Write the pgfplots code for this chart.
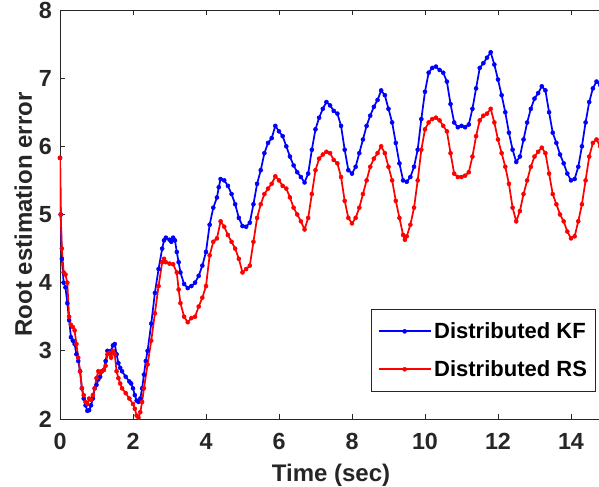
\documentclass[border=0pt]{standalone}
\usepackage{pgfplots}
\pgfplotsset{compat=1.18}
\usepackage{fontspec}
\setmainfont{Liberation Sans}
\pgfplotstableread{
t y
0.00 5.83
0.02 5.00
0.05 4.35
0.10 4.00
0.15 3.93
0.20 3.70
0.25 3.45
0.30 3.20
0.35 3.15
0.40 3.10
0.45 2.95
0.50 2.85
0.55 2.70
0.60 2.45
0.65 2.30
0.70 2.20
0.75 2.12
0.80 2.13
0.85 2.20
0.90 2.30
0.95 2.45
1.00 2.50
1.05 2.58
1.10 2.62
1.15 2.70
1.20 2.72
1.25 2.85
1.30 3.00
1.35 2.97
1.40 3.00
1.45 3.08
1.50 3.10
1.55 2.95
1.60 2.82
1.65 2.75
1.70 2.70
1.80 2.62
1.90 2.55
1.95 2.52
2.00 2.45
2.05 2.35
2.10 2.27
2.15 2.25
2.20 2.30
2.25 2.45
2.30 2.65
2.35 2.85
2.40 3.00
2.50 3.40
2.60 3.85
2.70 4.20
2.80 4.50
2.85 4.62
2.90 4.66
3.00 4.63
3.05 4.60
3.10 4.66
3.15 4.62
3.20 4.45
3.25 4.30
3.30 4.15
3.40 3.98
3.50 3.92
3.60 3.95
3.70 4.00
3.80 4.10
3.90 4.25
4.00 4.45
4.10 4.85
4.20 5.10
4.30 5.25
4.35 5.40
4.40 5.52
4.50 5.50
4.60 5.42
4.70 5.30
4.80 5.15
4.90 4.95
5.00 4.83
5.10 4.82
5.20 4.88
5.30 5.15
5.40 5.45
5.50 5.65
5.60 5.90
5.70 6.05
5.80 6.12
5.90 6.30
6.00 6.22
6.10 6.15
6.20 6.00
6.30 5.85
6.40 5.72
6.50 5.62
6.60 5.55
6.70 5.47
6.80 5.60
6.90 5.95
7.00 6.25
7.10 6.42
7.20 6.55
7.30 6.65
7.40 6.60
7.50 6.52
7.60 6.48
7.70 6.30
7.80 5.95
7.90 5.65
8.00 5.60
8.10 5.70
8.20 5.90
8.30 6.10
8.40 6.30
8.50 6.45
8.60 6.58
8.70 6.68
8.80 6.82
8.90 6.75
9.00 6.55
9.10 6.35
9.20 6.05
9.30 5.75
9.40 5.50
9.50 5.48
9.60 5.55
9.70 5.70
9.80 5.95
9.90 6.40
10.00 6.80
10.10 7.08
10.20 7.15
10.30 7.17
10.40 7.12
10.50 7.08
10.60 6.95
10.70 6.62
10.80 6.35
10.90 6.28
11.00 6.30
11.10 6.28
11.20 6.32
11.30 6.55
11.40 6.85
11.50 7.15
11.60 7.22
11.70 7.30
11.80 7.38
11.90 7.20
12.00 6.98
12.10 6.75
12.20 6.50
12.30 6.20
12.40 5.95
12.50 5.77
12.60 5.85
12.70 6.10
12.80 6.35
12.90 6.55
13.00 6.70
13.10 6.78
13.20 6.88
13.30 6.82
13.40 6.50
13.50 6.20
13.60 6.05
13.70 5.88
13.80 5.75
13.90 5.60
14.00 5.50
14.10 5.52
14.20 5.70
14.30 6.00
14.40 6.35
14.50 6.65
14.60 6.85
14.70 6.95
14.80 6.90
}\kf
\pgfplotstableread{
t y
0.00 5.83
0.02 5.00
0.05 4.50
0.10 4.15
0.15 4.12
0.20 4.00
0.25 3.50
0.30 3.38
0.35 3.35
0.40 3.30
0.45 3.10
0.50 2.90
0.55 2.70
0.60 2.45
0.65 2.35
0.70 2.25
0.75 2.22
0.80 2.30
0.85 2.28
0.90 2.35
0.95 2.45
1.00 2.60
1.05 2.70
1.10 2.68
1.15 2.70
1.20 2.72
1.25 2.78
1.30 2.95
1.35 2.97
1.40 2.90
1.45 3.00
1.50 2.95
1.55 2.70
1.60 2.60
1.65 2.52
1.70 2.45
1.80 2.38
1.90 2.30
2.00 2.22
2.05 2.15
2.10 2.05
2.15 2.02
2.20 2.10
2.25 2.25
2.30 2.45
2.40 2.80
2.50 3.15
2.60 3.55
2.70 3.95
2.80 4.30
2.85 4.35
2.90 4.30
3.00 4.28
3.10 4.27
3.20 4.15
3.25 3.90
3.30 3.70
3.40 3.50
3.50 3.42
3.60 3.48
3.70 3.50
3.80 3.65
3.90 3.78
4.00 3.95
4.10 4.40
4.20 4.60
4.30 4.65
4.40 4.90
4.50 4.82
4.60 4.70
4.70 4.60
4.80 4.50
4.90 4.35
5.00 4.15
5.10 4.20
5.20 4.25
5.30 4.60
5.40 4.95
5.50 5.15
5.60 5.30
5.70 5.38
5.80 5.45
5.90 5.56
6.00 5.50
6.10 5.42
6.20 5.38
6.30 5.25
6.40 5.10
6.50 5.00
6.60 4.90
6.70 4.78
6.80 4.95
6.90 5.30
7.00 5.65
7.10 5.82
7.20 5.88
7.30 5.92
7.40 5.90
7.50 5.80
7.60 5.75
7.70 5.55
7.80 5.20
7.90 4.95
8.00 4.87
8.10 4.95
8.20 5.10
8.30 5.30
8.40 5.50
8.50 5.70
8.60 5.82
8.70 5.90
8.80 6.00
8.90 5.90
9.00 5.70
9.10 5.50
9.20 5.20
9.30 4.95
9.40 4.70
9.45 4.63
9.50 4.68
9.60 4.85
9.70 5.10
9.80 5.50
9.90 5.95
10.00 6.25
10.10 6.35
10.20 6.40
10.30 6.42
10.40 6.38
10.50 6.30
10.60 6.22
10.70 5.90
10.80 5.60
10.90 5.55
11.00 5.55
11.10 5.57
11.20 5.62
11.30 5.85
11.40 6.15
11.50 6.38
11.60 6.45
11.70 6.48
11.80 6.55
11.90 6.35
12.00 6.10
12.10 5.90
12.20 5.70
12.30 5.45
12.40 5.10
12.50 4.90
12.60 5.05
12.70 5.30
12.80 5.50
12.90 5.70
13.00 5.85
13.10 5.92
13.20 5.98
13.30 5.90
13.40 5.60
13.50 5.30
13.60 5.15
13.70 5.00
13.80 4.90
13.90 4.75
14.00 4.65
14.10 4.68
14.20 4.90
14.30 5.15
14.40 5.50
14.50 5.85
14.60 6.05
14.70 6.10
14.80 6.00
}\rs
\definecolor{axgray}{gray}{0.15}
\begin{document}
\begin{tikzpicture}
\begin{axis}[
  scale only axis,
  width=406.5pt, height=306.75pt,
  xmin=0, xmax=14.85, ymin=2, ymax=8,
  xtick={0,2,...,14}, ytick={2,3,...,8},
  ytick pos=left,
  tick align=inside,
  major tick length=3.75pt,
  axis line style={axgray, line width=0.6pt},
  every tick/.style={axgray, line width=0.6pt},
  /pgf/number format/assume math mode=true,
  tick label style={font=\fontsize{17.5}{20}\selectfont\bfseries, text=axgray, inner sep=0pt},
  xticklabel style={anchor=base, yshift=-23.25pt},
  yticklabel style={anchor=east, xshift=-6pt},
  xlabel={Time (sec)},
  ylabel={Root estimation error},
  every axis x label/.style={at={(axis description cs:0.5,0)}, anchor=base, yshift=-47.25pt,
     font=\fontsize{18}{21}\selectfont\bfseries, text=axgray, inner sep=0pt},
  every axis y label/.style={at={(axis description cs:-0.0517,0.5)}, anchor=base, rotate=90,
     font=\fontsize{18}{21}\selectfont\bfseries, text=axgray, inner sep=0pt},
  legend style={at={(0.989,0.066)}, anchor=south east, draw=black!85, line width=0.6pt,
     font=\fontsize{16.5}{19}\selectfont\bfseries, fill=white,
     inner xsep=4.5pt, inner ysep=8pt, row sep=11pt, nodes={inner xsep=2pt}},
  legend cell align=left,
  legend image code/.code={\draw[mark repeat=2,mark phase=2] plot coordinates {(0pt,0pt) (19.5pt,0pt) (39pt,0pt)};},
]
\addplot[blue, line width=1.3pt, mark=*, mark size=1.5pt, mark options={line width=0.4pt}] table[x=t,y=y] {\kf};
\addlegendentry{Distributed KF}
\addplot[red, line width=1.3pt, mark=*, mark size=1.5pt, mark options={line width=0.4pt}] table[x=t,y=y] {\rs};
\addlegendentry{Distributed RS}
\end{axis}
\pgfresetboundingbox
\path[use as bounding box] ([xshift=-45pt,yshift=-51pt]current axis.south west) rectangle ([xshift=404.25pt,yshift=7.5pt]current axis.north west);
\end{tikzpicture}
\end{document}
